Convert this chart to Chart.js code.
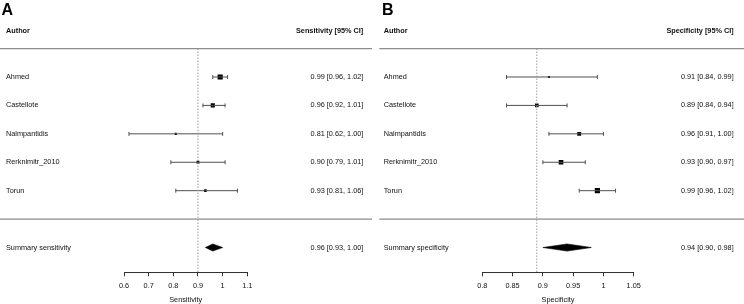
<!DOCTYPE html>
<html>
<head>
<meta charset="utf-8">
<script src="https://cdn.jsdelivr.net/npm/chart.js@4/dist/chart.umd.min.js"></script>
<style>
  body { margin: 0; background: #fff; }
  .panel { position: absolute; top: 0; width: 372px; height: 304px; }
</style>
</head>
<body>
<div class="panel" style="left:0"><canvas id="sensChart"></canvas></div>
<div class="panel" style="left:372px"><canvas id="specChart"></canvas></div>
<script>
// study names
const authors = ['Ahmed', 'Castellote', 'Nalmpantidis', 'Rerknimitr_2010', 'Torun'];

// sensitivity per study
const sensEst = [0.99, 0.96, 0.81, 0.90, 0.93];
const sensLo  = [0.96, 0.92, 0.62, 0.79, 0.81];
const sensHi  = [1.02, 1.01, 1.00, 1.01, 1.06];
const sensSummary = [0.96, 0.93, 1.00];   // est, lo, hi
const sensRef = 0.9;
const sensTicks = [0.6, 0.7, 0.8, 0.9, 1, 1.1];

// specificity per study
const specEst = [0.91, 0.89, 0.96, 0.93, 0.99];
const specLo  = [0.84, 0.84, 0.91, 0.90, 0.96];
const specHi  = [0.99, 0.94, 1.00, 0.97, 1.02];
const specSummary = [0.94, 0.90, 0.98];
const specRef = 0.89;
const specTicks = [0.8, 0.85, 0.9, 0.95, 1, 1.05];

const FONT = "'Liberation Sans', Arial, Helvetica, sans-serif";
const FS = 7.3;

// row layout (in y-scale units, reversed)
const HEADER_ROW = -0.61;
const SUMMARY_ROW = 7;
const Y_MIN = -1.533, Y_MAX = 7.872;

function fmt(e, l, h) {
  return e.toFixed(2) + ' [' + l.toFixed(2) + ', ' + h.toFixed(2) + ']';
}

// square size grows with study precision (inverse variance from the CI)
function squareRadii(lo, hi) {
  const w = lo.map((l, i) => 1 / Math.pow((hi[i] - l) / 3.92, 2));
  const mn = Math.min(...w), mx = Math.max(...w);
  return w.map(v => (2.1 + 3.1 * Math.sqrt((v - mn) / (mx - mn))) / Math.SQRT2);
}

// drop the label overflow padding chart.js adds around scales
function noPad(s) {
  s.paddingTop = 0; s.paddingBottom = 0; s.paddingLeft = 0; s.paddingRight = 0;
}

function makePanel(id, p) {
  const rows = authors.map((_, i) => i + 1);
  const tickRows = [HEADER_ROW, ...rows, SUMMARY_ROW];
  const leftLabels = ['Author', ...authors, p.summaryName];
  const rightLabels = [p.header, ...p.est.map((e, i) => fmt(e, p.lo[i], p.hi[i])), fmt(...p.summary)];

  const datasets = [];

  // dotted reference line
  datasets.push({
    data: [{ x: p.ref, y: 0 }, { x: p.ref, y: Y_MAX }],
    showLine: true, borderColor: '#9a9a9a', borderWidth: 1, borderDash: [1.5, 1.5],
    pointRadius: 0
  });

  // confidence intervals with end caps
  authors.forEach((a, i) => {
    datasets.push({
      data: [{ x: p.lo[i], y: rows[i] }, { x: p.hi[i], y: rows[i] }],
      showLine: true, borderColor: '#505050', borderWidth: 1,
      pointStyle: 'line', rotation: 90, pointRadius: 2,
      pointBorderColor: '#505050', pointBorderWidth: 1
    });
  });

  // point estimates
  datasets.push({
    data: p.est.map((e, i) => ({ x: e, y: rows[i] })),
    pointStyle: 'rect', pointRadius: squareRadii(p.lo, p.hi),
    backgroundColor: '#000', borderColor: '#000', borderWidth: 0
  });

  // summary diamond
  const [se, sl, sh] = p.summary;
  const dh = 0.125;
  datasets.push({
    data: [
      { x: sl, y: SUMMARY_ROW }, { x: se, y: SUMMARY_ROW - dh },
      { x: sh, y: SUMMARY_ROW }, { x: se, y: SUMMARY_ROW + dh },
      { x: sl, y: SUMMARY_ROW }
    ],
    showLine: true, fill: 'shape', backgroundColor: '#000',
    borderColor: '#000', borderWidth: 0.6, pointRadius: 0, tension: 0
  });

  const decorations = {
    id: 'decor' + id,
    beforeDatasetsDraw(chart) {
      const ctx = chart.ctx, y = chart.scales.y;
      ctx.save();
      ctx.strokeStyle = '#8c8c8c';
      ctx.lineWidth = 1.3;
      [0, 6].forEach(r => {
        const py = y.getPixelForValue(r);
        ctx.beginPath();
        ctx.moveTo(p.lineStart, py);
        ctx.lineTo(chart.width, py);
        ctx.stroke();
      });
      ctx.restore();
    },
    afterDraw(chart) {
      const ctx = chart.ctx;
      ctx.save();
      ctx.fillStyle = '#000';
      ctx.font = 'bold 16px ' + FONT;
      ctx.textBaseline = 'alphabetic';
      ctx.fillText(p.letter, p.letterX, 14.5);
      ctx.restore();
    }
  };

  return new Chart(document.getElementById(id), {
    type: 'scatter',
    data: { datasets },
    plugins: [decorations],
    options: {
      responsive: true,
      maintainAspectRatio: false,
      animation: false,
      events: [],
      layout: { padding: { left: p.padLeft, right: p.padRight, top: 0, bottom: 0 } },
      plugins: { legend: { display: false }, tooltip: { enabled: false } },
      scales: {
        x: {
          type: 'linear', position: 'bottom',
          min: p.ticks[0], max: p.ticks[p.ticks.length - 1],
          afterBuildTicks: s => { s.ticks = p.ticks.map(v => ({ value: v })); },
          afterFit: s => { s.height = 31.7; noPad(s); },
          ticks: {
            callback: v => String(v), autoSkip: false, maxRotation: 0,
            color: '#111', padding: 5, font: { family: FONT, size: FS }
          },
          grid: { drawOnChartArea: false, drawTicks: true, tickLength: 4, color: '#333', lineWidth: 1 },
          border: { display: true, color: '#333', width: 1 },
          title: {
            display: true, text: p.axisTitle, color: '#111',
            font: { family: FONT, size: FS }, padding: { top: 0, bottom: 0 }
          }
        },
        y: {
          type: 'linear', position: 'left', reverse: true, min: Y_MIN, max: Y_MAX,
          afterBuildTicks: s => { s.ticks = tickRows.map(v => ({ value: v })); },
          afterFit: s => { s.width = p.leftW; noPad(s); },
          ticks: {
            callback: (v, i) => leftLabels[i], autoSkip: false, crossAlign: 'far',
            color: '#111',
            font: c => ({ family: FONT, size: FS, weight: c.index === 0 ? 'bold' : 'normal' })
          },
          grid: { display: false }, border: { display: false }
        },
        y2: {
          type: 'linear', position: 'right', reverse: true, min: Y_MIN, max: Y_MAX,
          afterBuildTicks: s => { s.ticks = tickRows.map(v => ({ value: v })); },
          afterFit: s => { s.width = p.rightW; noPad(s); },
          ticks: {
            callback: (v, i) => rightLabels[i], autoSkip: false, crossAlign: 'far',
            color: '#111',
            font: c => ({ family: FONT, size: FS, weight: c.index === 0 ? 'bold' : 'normal' })
          },
          grid: { display: false }, border: { display: false }
        }
      }
    }
  });
}

makePanel('sensChart', {
  letter: 'A', letterX: 1.5, lineStart: 0,
  est: sensEst, lo: sensLo, hi: sensHi, summary: sensSummary, ref: sensRef, ticks: sensTicks,
  header: 'Sensitivity [95% CI]', summaryName: 'Summary sensitivity', axisTitle: 'Sensitivity',
  padLeft: 6, padRight: 8.7, leftW: 118, rightW: 116
});

makePanel('specChart', {
  letter: 'B', letterX: 10, lineStart: 7.3,
  est: specEst, lo: specLo, hi: specHi, summary: specSummary, ref: specRef, ticks: specTicks,
  header: 'Specificity [95% CI]', summaryName: 'Summary specificity', axisTitle: 'Specificity',
  padLeft: 11.7, padRight: 10.3, leftW: 98.6, rightW: 100
});
</script>
</body>
</html>
